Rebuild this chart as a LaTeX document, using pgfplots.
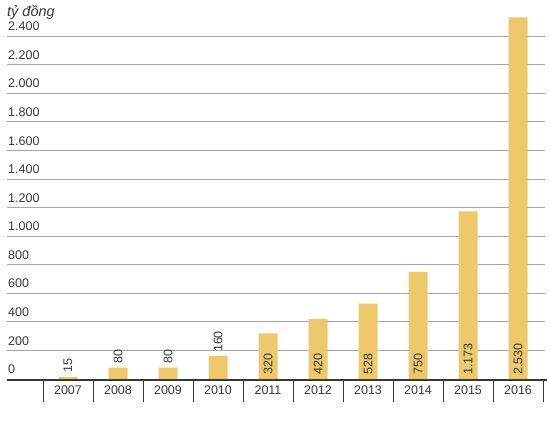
\documentclass[border=0pt]{standalone}
\usepackage{fontspec}
\setmainfont{Liberation Sans}
\usepackage{pgfplots}
\pgfplotsset{compat=1.18}
\definecolor{barc}{RGB}{237,201,107}
\definecolor{txt}{RGB}{55,55,55}
\definecolor{gridc}{RGB}{165,165,165}
\begin{document}
\begin{tikzpicture}
\begin{axis}[
  at={(7pt,0pt)}, anchor=south west,
  scale only axis, width=538pt, height=435pt,
  xmin=-1.22, xmax=9.54,
  ymin=-391.8, ymax=2651.9,
  clip=false,
  axis line style={draw=none},
  /pgf/number format/1000 sep={.},
  /pgf/number format/assume math mode=true,
  scaled y ticks=false,
  ytick={0,200,...,2400},
  ytick style={draw=none},
  yticklabel style={anchor=south west, inner sep=0pt, xshift=1pt, yshift=5pt,
    font=\fontsize{12.5}{12.5}\selectfont, text=txt},
  ymajorgrids,
  grid style={gridc, line width=0.8pt},
  xtick={0,...,9},
  xticklabels={2007,2008,2009,2010,2011,2012,2013,2014,2015,2016},
  xtick style={draw=none},
  xticklabel style={anchor=base, yshift=40pt, inner sep=0pt,
    font=\fontsize{12.5}{12.5}\selectfont, text=txt},
]
\addplot[ybar, bar width=19pt, fill=barc, draw=none] coordinates {
  (0,15) (1,80) (2,80) (3,160) (4,320) (5,420) (6,528) (7,750) (8,1173) (9,2530)
};
\addplot[draw=none, mark=none, nodes near coords, point meta=explicit,
  nodes near coords style={rotate=90, anchor=west, inner sep=4pt,
    font=\fontsize{12.5}{12.5}\selectfont, text=txt}] coordinates {
  (0,15) [15] (1,80) [80] (2,80) [80] (3,160) [160] (4,0) [320]
  (5,0) [420] (6,0) [528] (7,0) [750] (8,0) [1173] (9,0) [2530]
};
\draw[txt, line width=2pt] (-1.22,-6) -- (9.58,-6);
\pgfplotsinvokeforeach{-0.5,0.5,...,9.5}{\draw[txt, line width=1pt] (#1,-6) -- (#1,-161);}
\node[anchor=base west, inner sep=0pt, text=txt,
  font=\itshape\fontsize{14.5}{14.5}\selectfont] at (-1.22,2533) {tỷ đồng};
\end{axis}
\pgfresetboundingbox
\path (0pt,0pt) rectangle (549pt,435pt);
\end{tikzpicture}
\end{document}
